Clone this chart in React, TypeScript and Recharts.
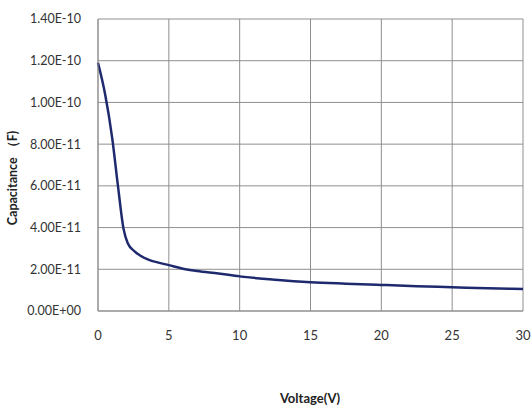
import { LineChart, Line, XAxis, YAxis, CartesianGrid, Label } from 'recharts'

// voltage (V) and capacitance (F)
const voltage = [0, 0.5, 1.0, 1.4, 1.8, 2.1, 2.6, 3.0, 3.6, 4.2, 5, 6, 7, 8.5, 10, 12.5, 15, 17.5, 20, 22.5, 25, 27.5, 30]
const capacitance = [
  1.19e-10, 1.04e-10, 8.3e-11, 6.05e-11, 3.95e-11, 3.25e-11, 2.85e-11, 2.65e-11, 2.45e-11, 2.33e-11, 2.2e-11,
  2.03e-11, 1.92e-11, 1.8e-11, 1.66e-11, 1.5e-11, 1.38e-11, 1.31e-11, 1.25e-11, 1.19e-11, 1.14e-11, 1.09e-11,
  1.05e-11,
]
const xTicks = [0, 5, 10, 15, 20, 25, 30]
const yTicks = [0, 2e-11, 4e-11, 6e-11, 8e-11, 1e-10, 1.2e-10, 1.4e-10]

const data = voltage.map((v, i) => ({ v, c: capacitance[i] }))

const FONT = 'Lato, "Open Sans", sans-serif'
const GRID = '#8f8f8f'

function sci(value: number) {
  if (value === 0) return '0.00E+00'
  const [m, e] = value.toExponential(2).split('e')
  const exp = Number(e)
  const sign = exp < 0 ? '-' : '+'
  return `${m}E${sign}${String(Math.abs(exp)).padStart(2, '0')}`
}

export default function App() {
  return (
    <div style={{ position: 'absolute', left: 0, top: 0, background: '#fff' }}>
      <LineChart width={531} height={407} data={data} margin={{ top: 19, right: 8, bottom: 66, left: 0 }}>
        <CartesianGrid stroke={GRID} strokeWidth={1} />
        <XAxis
          dataKey="v"
          type="number"
          domain={[0, 30]}
          ticks={xTicks}
          tickLine={false}
          tickMargin={14}
          stroke={GRID}
          tick={{ fill: '#333', fontSize: 13, fontFamily: FONT }}
        >
          <Label
            content={() => (
              <text x={310} y={403} textAnchor="middle" fill="#222" fontSize={13} fontWeight="bold" fontFamily={FONT}>
                Voltage(V)
              </text>
            )}
          />
        </XAxis>
        <YAxis
          type="number"
          domain={[0, 1.4e-10]}
          ticks={yTicks}
          width={98}
          tickLine={false}
          tickMargin={11}
          stroke={GRID}
          tickFormatter={sci}
          tick={{ fill: '#333', fontSize: 12.5, fontFamily: FONT }}
        >
          <Label
            content={() => (
              <text
                x={17}
                y={178}
                transform="rotate(-90 17 178)"
                textAnchor="middle"
                fill="#222"
                fontSize={12.5}
                fontWeight="bold"
                fontFamily={FONT}
              >
                Capacitance （F)
              </text>
            )}
          />
        </YAxis>
        <Line
          dataKey="c"
          type="monotone"
          stroke="#1f2a6e"
          strokeWidth={2.5}
          dot={false}
          isAnimationActive={false}
        />
      </LineChart>
    </div>
  )
}
